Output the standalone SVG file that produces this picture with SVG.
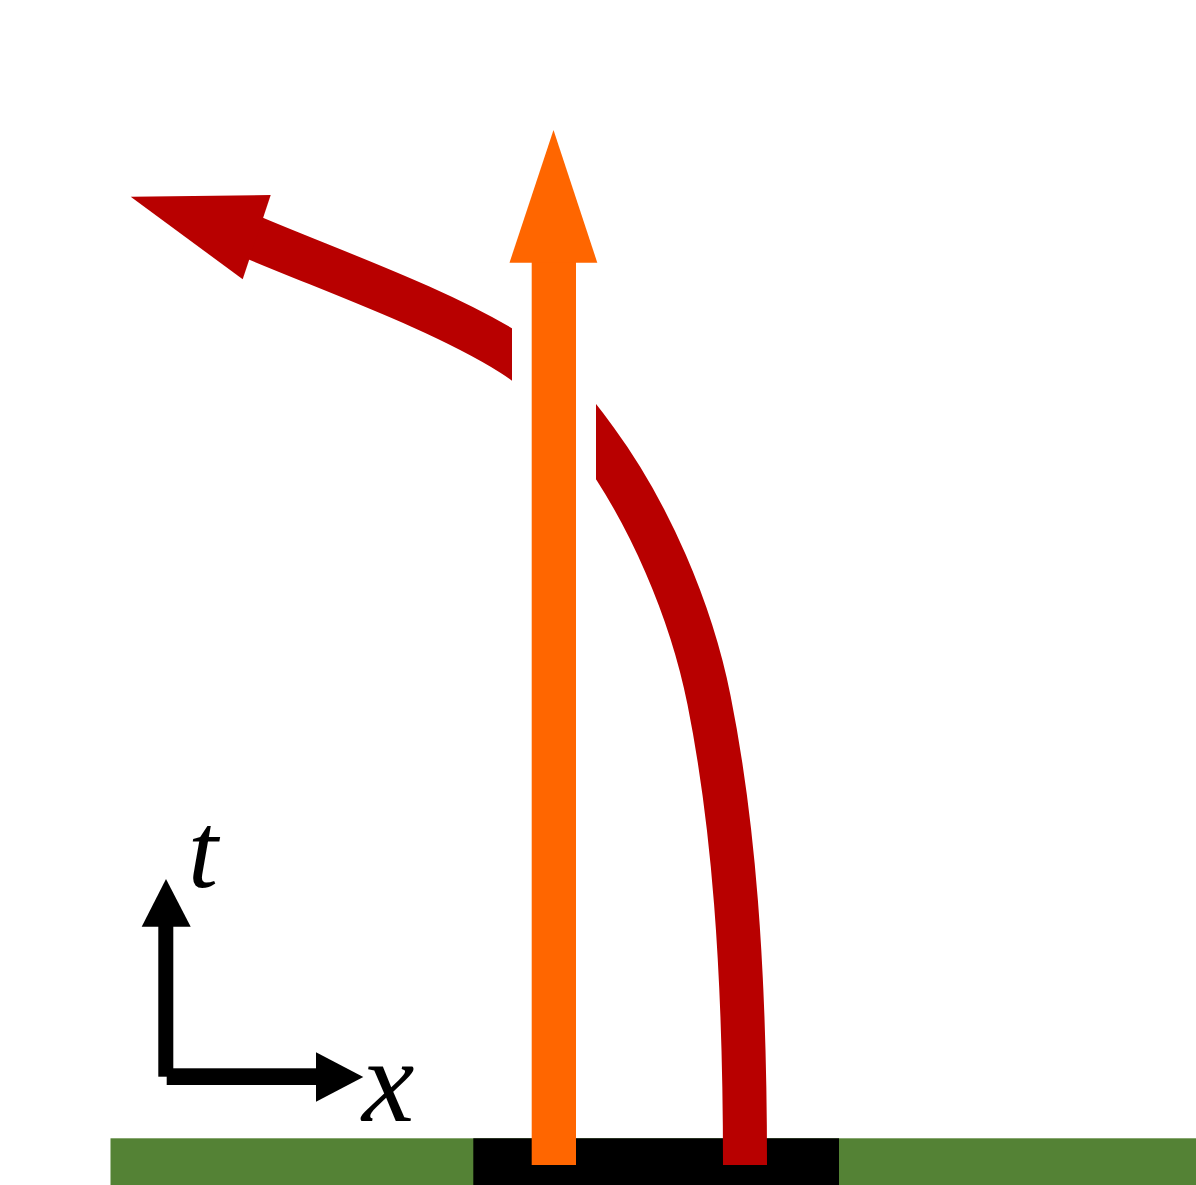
<svg xmlns="http://www.w3.org/2000/svg" width="1196" height="1185" viewBox="0 0 1196 1185">
<style>
.red{fill:none;stroke:#b80000;stroke-width:44;stroke-linecap:butt;stroke-linejoin:round}
.redfill{fill:#b80000}
.orange{fill:#ff6600}
.ax{fill:#000}
.lbl{font-family:"Liberation Serif","DejaVu Serif",serif;font-style:italic;fill:#000}
</style>
<rect width="1196" height="1185" fill="#fff"/>
<g id="ground">
<rect x="110.5" y="1138.3" width="1085.5" height="46.7" fill="#548235"/>
<rect x="473.3" y="1138.3" width="365.7" height="46.7" fill="#000"/>
</g>
<g id="connectors">
<g id="red-worldline">
<path class="red" d="M745,1165 C745,965 733,820 709,700 C691,610 649,512.8 596,440.5 C572.5,408.1 545.9,375.2 512,354 C440,309 335.2,272.2 252,237"/>
<rect x="512" y="290" width="84" height="220" fill="#fff"/>
<polygon class="redfill" points="130.7,196.7 270.7,195 242.7,279.3"/>
</g>
<g id="orange-worldline">
<rect class="orange" x="531.7" y="262" width="44.3" height="903"/>
<polygon class="orange" points="553.5,130 597.3,262.7 509.5,262.7"/>
</g>
</g>
<g id="axes">
<rect class="ax" x="158.3" y="925" width="15" height="151.7"/>
<polygon class="ax" points="166,879 190.7,926.7 141.7,926.7"/>
<rect class="ax" x="166.7" y="1068.3" width="150" height="16.7"/>
<polygon class="ax" points="363.3,1077 316,1052.3 316,1101.7"/>
<text class="lbl" x="188" y="887" font-size="108">t</text>
<text class="lbl" x="362" y="1121" font-size="118">x</text>
</g>
</svg>
